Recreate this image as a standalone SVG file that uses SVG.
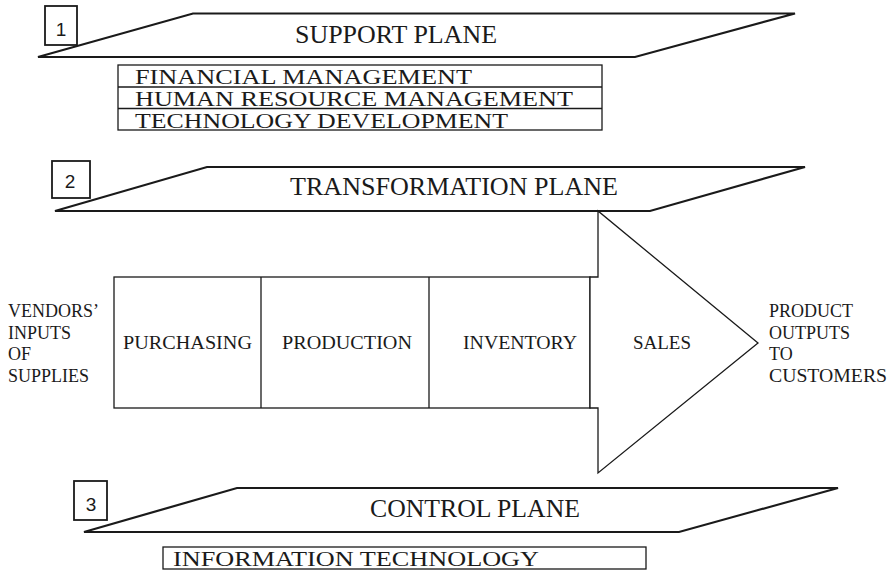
<svg xmlns="http://www.w3.org/2000/svg" width="895" height="573" viewBox="0 0 895 573">
<style>
.plane{fill:#fff;stroke:#1a1a1a;stroke-width:2.2;stroke-linejoin:miter}
.num{fill:#fff;stroke:#1a1a1a;stroke-width:1.8}
.box{fill:#fff;stroke:#1a1a1a;stroke-width:1.3}
.line{fill:none;stroke:#1a1a1a;stroke-width:1.3}
.t{font-family:"Liberation Serif","Times New Roman",serif;fill:#1a1a1a}
.n{font-family:"Liberation Sans",Arial,sans-serif;font-size:19px;fill:#1a1a1a;text-anchor:middle}
.pl{font-size:25px}
.sub{font-size:21px}
.pr{font-size:18px}
</style>
<rect width="895" height="573" fill="#fff"/>
<g id="support">
<polygon class="plane" points="193,13.5 795,13.5 635,57 38,57"/>
<text class="t pl" x="295" y="43" textLength="202" lengthAdjust="spacingAndGlyphs">SUPPORT PLANE</text>
<rect class="num" x="45" y="6" width="32" height="39"/>
<text class="n" x="61" y="36">1</text>
</g>
<g id="support-functions">
<rect class="box" x="118" y="65" width="484" height="65"/>
<line class="line" x1="118" y1="87" x2="602" y2="87"/>
<line class="line" x1="118" y1="108.5" x2="602" y2="108.5"/>
<text class="t sub" x="135" y="84" textLength="337" lengthAdjust="spacingAndGlyphs">FINANCIAL MANAGEMENT</text>
<text class="t sub" x="135" y="106" textLength="438" lengthAdjust="spacingAndGlyphs">HUMAN RESOURCE MANAGEMENT</text>
<text class="t sub" x="135" y="127.5" textLength="373" lengthAdjust="spacingAndGlyphs">TECHNOLOGY DEVELOPMENT</text>
</g>
<g id="transformation">
<polygon class="plane" points="207,167 805,167 650,211 55,211"/>
<text class="t pl" x="290" y="195" textLength="328" lengthAdjust="spacingAndGlyphs">TRANSFORMATION PLANE</text>
<rect class="num" x="52" y="161" width="38" height="37"/>
<text class="n" x="70" y="188">2</text>
</g>
<g id="process">
<rect class="box" x="114" y="277" width="476" height="131"/>
<polygon class="box" points="590,277 598,277 598,211 758,343 598,473 598,408 590,408"/>
<line class="line" x1="261" y1="277" x2="261" y2="408"/>
<line class="line" x1="429" y1="277" x2="429" y2="408"/>
<text class="t pr" x="123" y="349" textLength="129" lengthAdjust="spacingAndGlyphs">PURCHASING</text>
<text class="t pr" x="282" y="349" textLength="130" lengthAdjust="spacingAndGlyphs">PRODUCTION</text>
<text class="t pr" x="463" y="349" textLength="114" lengthAdjust="spacingAndGlyphs">INVENTORY</text>
<text class="t pr" x="633" y="349" textLength="58" lengthAdjust="spacingAndGlyphs">SALES</text>
</g>
<g id="inputs">
<text class="t pr" x="8" y="317">VENDORS’</text>
<text class="t pr" x="8" y="338.5">INPUTS</text>
<text class="t pr" x="8" y="360">OF</text>
<text class="t pr" x="8" y="382">SUPPLIES</text>
</g>
<g id="outputs">
<text class="t pr" x="769" y="317">PRODUCT</text>
<text class="t pr" x="769" y="338.5">OUTPUTS</text>
<text class="t pr" x="769" y="360">TO</text>
<text class="t pr" x="769" y="382" textLength="118" lengthAdjust="spacingAndGlyphs">CUSTOMERS</text>
</g>
<g id="control">
<polygon class="plane" points="237,488 838,488 679,532 84,532"/>
<text class="t pl" x="370" y="517" textLength="210" lengthAdjust="spacingAndGlyphs">CONTROL PLANE</text>
<rect class="num" x="74" y="481" width="33" height="39"/>
<text class="n" x="91" y="511">3</text>
</g>
<g id="control-functions">
<rect class="box" x="163" y="547" width="483" height="22"/>
<text class="t sub" x="173" y="566" font-size="21" textLength="366" lengthAdjust="spacingAndGlyphs">INFORMATION TECHNOLOGY</text>
</g>
</svg>
